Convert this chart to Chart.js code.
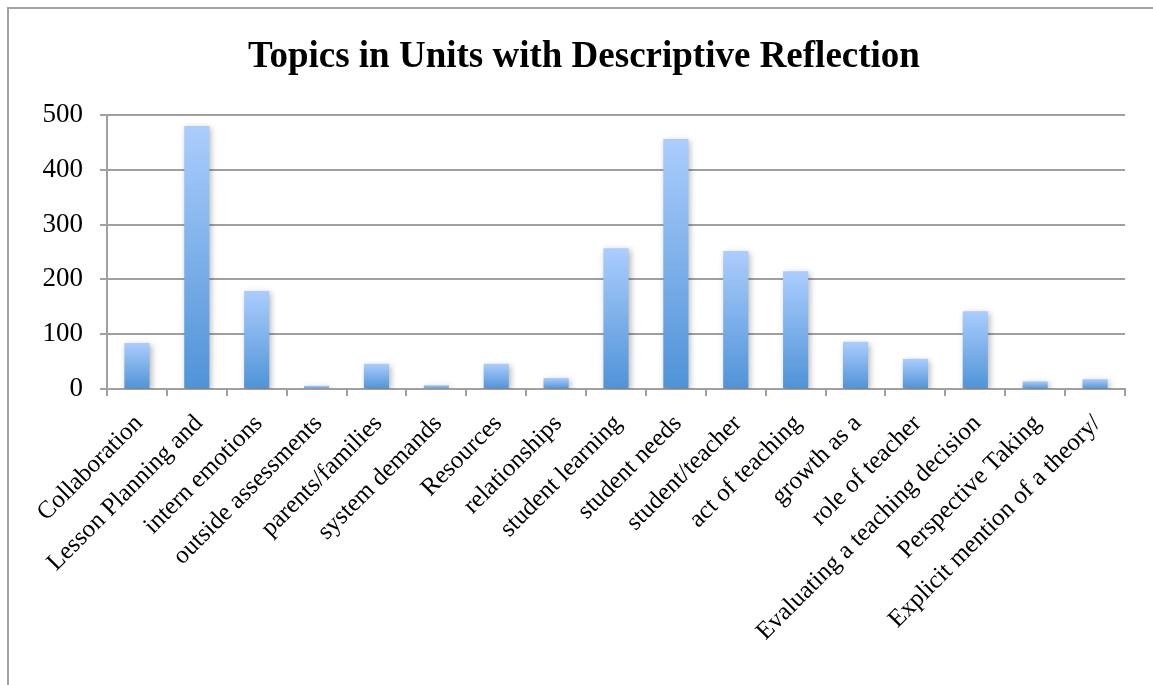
<!DOCTYPE html>
<html>
<head>
<meta charset="utf-8">
<script src="https://cdn.jsdelivr.net/npm/chart.js@4"></script>
<style>
  html, body { margin: 0; padding: 0; background: #ffffff; }
  #wrap { width: 1153px; height: 685px; position: relative; }
</style>
</head>
<body>
<div id="wrap"><canvas id="c" width="1153" height="685"></canvas></div>
<script>
const chartTitle = 'Topics in Units with Descriptive Reflection';
const categories = [
  'Collaboration', 'Lesson Planning and', 'intern emotions', 'outside assessments',
  'parents/families', 'system demands', 'Resources', 'relationships',
  'student learning', 'student needs', 'student/teacher', 'act of teaching',
  'growth as a', 'role of teacher', 'Evaluating a teaching decision',
  'Perspective Taking', 'Explicit mention of a theory/'
];
const counts = [84, 480, 179, 6, 46, 7, 46, 20, 257, 456, 252, 215, 86, 55, 142, 14, 18];
const yTicks = [0, 100, 200, 300, 400, 500];

const framePlugin = {
  id: 'frame',
  beforeDraw(chart) {
    const ctx = chart.ctx;
    ctx.save();
    ctx.fillStyle = '#ffffff';
    ctx.fillRect(0, 0, chart.width, chart.height);
    ctx.strokeStyle = '#a3a3a3';
    ctx.lineWidth = 2;
    ctx.beginPath();
    ctx.moveTo(8, chart.height + 5);
    ctx.lineTo(8, 8);
    ctx.lineTo(chart.width + 5, 8);
    ctx.stroke();
    ctx.restore();
  },
  beforeDatasetsDraw(chart) {
    const ctx = chart.ctx;
    ctx.save();
    ctx.shadowColor = 'rgba(0,0,0,0.28)';
    ctx.shadowBlur = 6;
    ctx.shadowOffsetX = 2;
    ctx.shadowOffsetY = 2;
  },
  afterDatasetsDraw(chart) {
    chart.ctx.restore();
  }
};

function barGradient(context) {
  const chart = context.chart;
  const yScale = chart.scales && chart.scales.y;
  const v = context.raw;
  if (!yScale || !chart.chartArea || typeof v !== 'number') return '#6fa7e6';
  const top = yScale.getPixelForValue(v);
  const bottom = yScale.getPixelForValue(0);
  if (!isFinite(top) || !isFinite(bottom) || bottom - top < 0.5) return '#9cc3f5';
  const g = chart.ctx.createLinearGradient(0, top, 0, bottom);
  g.addColorStop(0, '#abcdfd');
  g.addColorStop(1, '#4f93d7');
  return g;
}

new Chart(document.getElementById('c'), {
  type: 'bar',
  data: {
    labels: categories,
    datasets: [{
      data: counts,
      backgroundColor: barGradient,
      borderWidth: 0,
      barPercentage: 0.42,
      categoryPercentage: 1.0
    }]
  },
  plugins: [framePlugin],
  options: {
    responsive: false,
    animation: false,
    layout: { padding: { top: 35, left: 43, right: 28, bottom: 0 } },
    plugins: {
      legend: { display: false },
      tooltip: { enabled: false },
      title: {
        display: true,
        text: chartTitle,
        color: '#000000',
        font: { family: '"Liberation Serif", "Times New Roman", serif', size: 37, weight: 'bold' },
        padding: { top: 0, bottom: 35.6 }
      }
    },
    scales: {
      x: {
        afterFit(scale) { scale.height = 296; },
        grid: {
          offset: true,
          drawOnChartArea: false,
          drawTicks: true,
          tickLength: 7,
          color: '#a0a0a0',
          lineWidth: 2
        },
        border: { display: true, color: '#a0a0a0', width: 2 },
        ticks: {
          autoSkip: false,
          maxRotation: 45,
          minRotation: 45,
          padding: 13,
          labelOffset: 2,
          color: '#000000',
          font: { family: '"Liberation Serif", "Times New Roman", serif', size: 25 }
        }
      },
      y: {
        min: 0,
        max: 500,
        afterFit(scale) { scale.width = 64; },
        afterBuildTicks(scale) { scale.ticks = yTicks.map(v => ({ value: v })); },
        grid: {
          color: '#a0a0a0',
          lineWidth: 2,
          drawTicks: true,
          tickLength: 7
        },
        border: { display: true, color: '#a0a0a0', width: 2 },
        ticks: {
          padding: 17,
          color: '#000000',
          font: { family: '"Liberation Serif", "Times New Roman", serif', size: 27 }
        }
      }
    }
  }
});
</script>
</body>
</html>
